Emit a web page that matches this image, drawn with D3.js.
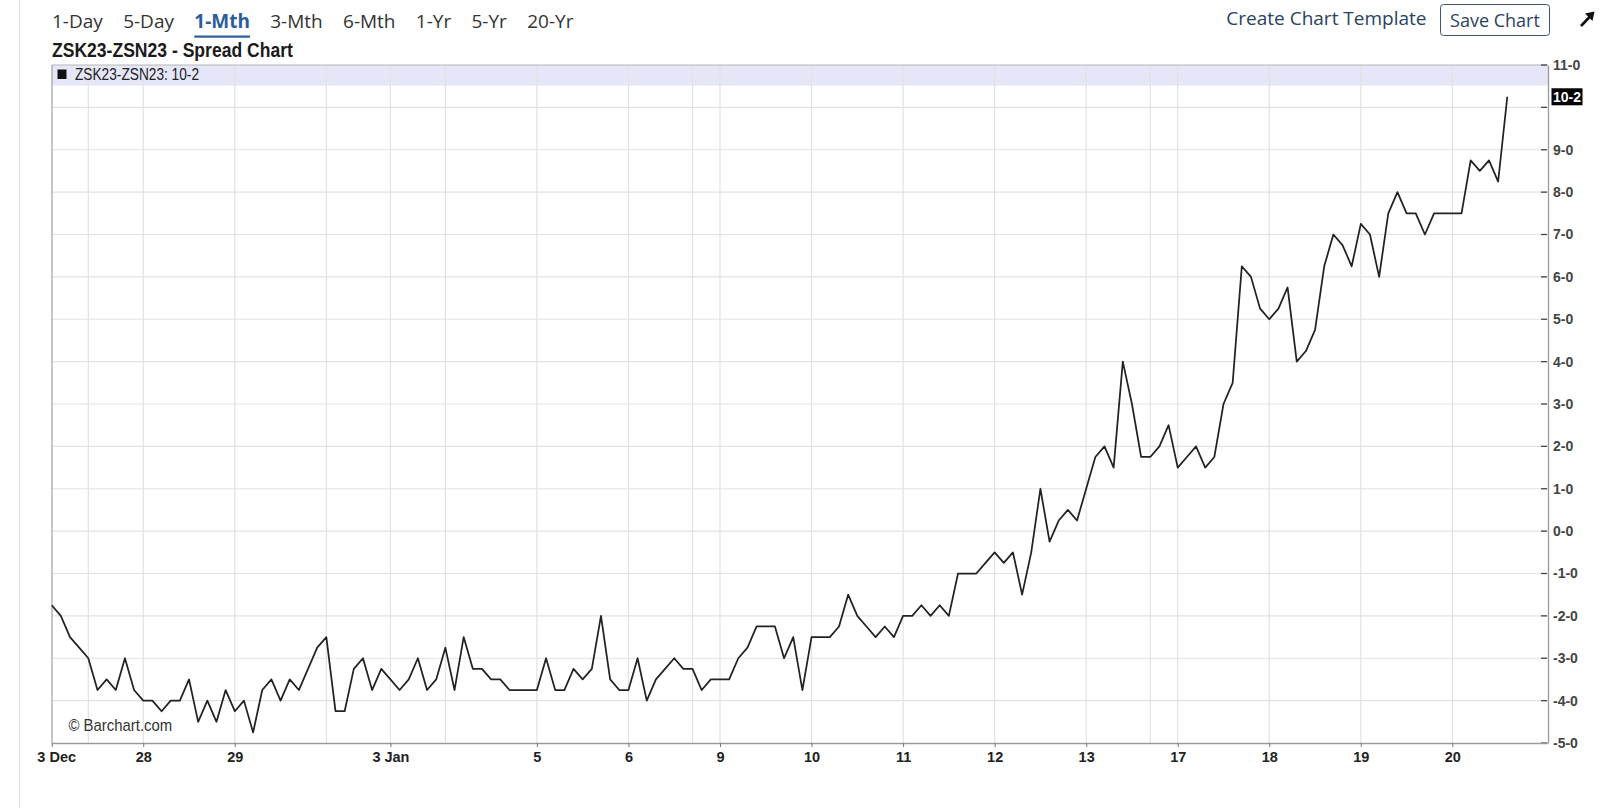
<!DOCTYPE html>
<html><head><meta charset="utf-8">
<script src="https://cdn.jsdelivr.net/npm/d3@7"></script>
<style>
html,body{margin:0;padding:0;background:#fff;overflow:hidden;}
svg{display:block;}
</style></head><body>
<svg id="c" width="1600" height="808"></svg>
<script>
// ---------- data ----------
const periods = ["1-Day","5-Day","1-Mth","3-Mth","6-Mth","1-Yr","5-Yr","20-Yr"];
const activePeriod = "1-Mth";
const chartTitle = "ZSK23-ZSN23 - Spread Chart";
const seriesName = "ZSK23-ZSN23";
const lastLabel = "10-2";
const spread = [
  -1.75,-2,-2.5,-2.75,-3,-3.75,-3.5,-3.75,-3,-3.75,
  -4,-4,-4.25,-4,-4,-3.5,-4.5,-4,-4.5,-3.75,
  -4.25,-4,-4.75,-3.75,-3.5,-4,-3.5,-3.75,-3.25,-2.75,
  -2.5,-4.25,-4.25,-3.25,-3,-3.75,-3.25,-3.5,-3.75,-3.5,
  -3,-3.75,-3.5,-2.75,-3.75,-2.5,-3.25,-3.25,-3.5,-3.5,
  -3.75,-3.75,-3.75,-3.75,-3,-3.75,-3.75,-3.25,-3.5,-3.25,
  -2,-3.5,-3.75,-3.75,-3,-4,-3.5,-3.25,-3,-3.25,
  -3.25,-3.75,-3.5,-3.5,-3.5,-3,-2.75,-2.25,-2.25,-2.25,
  -3,-2.5,-3.75,-2.5,-2.5,-2.5,-2.25,-1.5,-2,-2.25,
  -2.5,-2.25,-2.5,-2,-2,-1.75,-2,-1.75,-2,-1,
  -1,-1,-0.75,-0.5,-0.75,-0.5,-1.5,-0.5,1,-0.25,
  0.25,0.5,0.25,1,1.75,2,1.5,4,3,1.75,
  1.75,2,2.5,1.5,1.75,2,1.5,1.75,3,3.5,
  6.25,6,5.25,5,5.25,5.75,4,4.25,4.75,6.25,
  7,6.75,6.25,7.25,7,6,7.5,8,7.5,7.5,
  7,7.5,7.5,7.5,7.5,8.75,8.5,8.75,8.25,10.25
];
const dayGridIdx  = [4,10,20,30,37,43,53,63,70,73,83,93,103,113,120,123,133,143,153];
const dayLabelIdx = [0,10,20,37,53,63,73,83,93,103,113,123,133,143,153];
const dayLabels   = ["3 Dec","28","29","3 Jan","5","6","9","10","11","12","13","17","18","19","20"];
const yTicks = [-5,-4,-3,-2,-1,0,1,2,3,4,5,6,7,8,9,10,11];

// ---------- layout ----------
const svg = d3.select("#c");
const P = {left:52, right:1548, top:65, bottom:743, legendH:20.5};
const chartFont = "'Liberation Sans', Arial, Helvetica, sans-serif";
const uiFont = "'Open Sans', 'Noto Sans', sans-serif";

const x = d3.scaleLinear().domain([0, spread.length-1]).range([51.7, 1507.3]);
const y = d3.scaleLinear().domain([-5, 11]).range([P.bottom, P.top]);

const fmt = v => {
  const whole = Math.trunc(v);
  const eighths = Math.round(Math.abs(v - whole) * 8);
  return (v < 0 && whole === 0 ? "-" : "") + whole + "-" + eighths;
};

// page border line
svg.append("line").attr("x1",19.5).attr("x2",19.5).attr("y1",0).attr("y2",808)
  .attr("stroke","#dcdcdc").attr("stroke-width",1);

// ---------- toolbar ----------
const tb = svg.append("g");
let tx = 52;
periods.forEach(p => {
  const active = p === activePeriod;
  const t = tb.append("text").attr("x", tx).attr("y", 27.5)
    .attr("font-family", uiFont).attr("font-size", 19)
    .attr("font-weight", active ? 700 : 400)
    .attr("fill", active ? "#2b5d9b" : "#333").text(p);
  const w = t.node().getComputedTextLength();
  if (active) {
    tb.append("rect").attr("x", tx).attr("y", 35.5).attr("width", w).attr("height", 2.2)
      .attr("fill", "#2b5d9b");
  }
  tx += w + 20.3;
});

svg.append("text").attr("x", 1426.5).attr("y", 24.5).attr("text-anchor","end")
  .attr("font-family", uiFont).attr("font-size", 19).attr("fill","#2a4262")
  .text("Create Chart Template");
svg.append("rect").attr("x",1440.5).attr("y",4.5).attr("width",109).attr("height",31)
  .attr("rx",3).attr("fill","#fff").attr("stroke","#3b5578").attr("stroke-width",1);
svg.append("text").attr("x", 1495).attr("y", 27).attr("text-anchor","middle")
  .attr("font-family", uiFont).attr("font-size", 18).attr("fill","#2a4262")
  .text("Save Chart");
// expand arrow
svg.append("line").attr("x1",1581).attr("y1",26).attr("x2",1590).attr("y2",16.5)
  .attr("stroke","#111").attr("stroke-width",2.6);
svg.append("path").attr("d","M1594.5,11.5 L1585,13.5 L1592.5,21 Z").attr("fill","#111");

// ---------- title ----------
function ctext(g, px, py, s, o) {
  return g.append("text")
    .attr("transform", `translate(${px},${py}) scale(${o.sx||1},1)`)
    .attr("text-anchor", o.anchor || "start")
    .attr("font-family", chartFont).attr("font-size", o.size)
    .attr("font-weight", o.weight || 400).attr("fill", o.fill || "#222")
    .text(s);
}
ctext(svg, 52, 56.7, chartTitle, {size:19.5, weight:700, sx:0.9, fill:"#1a1a1a"});

// ---------- plot background / legend band ----------
svg.append("rect").attr("x",P.left).attr("y",P.top).attr("width",P.right-P.left)
  .attr("height",P.legendH).attr("fill","#e6e6f9");

// grid
const grid = svg.append("g").attr("stroke","#e2e2e2").attr("stroke-width",1.2);
grid.selectAll("line.h").data(yTicks.filter(t => t > -5 && t < 11)).join("line")
  .attr("x1",P.left).attr("x2",P.right)
  .attr("y1",d=>y(d)).attr("y2",d=>y(d));
grid.selectAll("line.v").data(dayGridIdx).join("line")
  .attr("x1",d=>x(d)).attr("x2",d=>x(d))
  .attr("y1",P.top).attr("y2",P.bottom);

// plot frame
svg.append("line").attr("x1",P.left).attr("x2",P.right).attr("y1",P.top).attr("y2",P.top)
  .attr("stroke","#b5b5b5").attr("stroke-width",1);
svg.append("line").attr("x1",P.left).attr("x2",P.left).attr("y1",P.top).attr("y2",P.bottom)
  .attr("stroke","#a0a0a0").attr("stroke-width",1.2);

// legend
svg.append("rect").attr("x",57.5).attr("y",69.5).attr("width",9).attr("height",9.5).attr("fill","#111");
ctext(svg, 75, 80.3, seriesName + ": " + lastLabel, {size:16.5, sx:0.83, fill:"#222"});

// ---------- line ----------
const lineGen = d3.line().x((d,i)=>x(i)).y(d=>y(d));
svg.append("path").datum(spread).attr("d", lineGen)
  .attr("fill","none").attr("stroke","#222").attr("stroke-width",1.75)
  .attr("stroke-linejoin","round");

// watermark
ctext(svg, 68.5, 730.5, "© Barchart.com", {size:15.7, sx:0.95, fill:"#333"});

// ---------- axes ----------
const lastV = spread[spread.length-1];
const yAxis = d3.axisRight(y).tickValues(yTicks.filter(t => Math.abs(y(t) - y(lastV)) > 14))
  .tickFormat(fmt).tickSize(0).tickPadding(5);
const ya = svg.append("g").attr("transform",`translate(${P.right},0)`).call(yAxis);
ya.select(".domain").attr("stroke","#9a9a9a").attr("stroke-width",1.3);
ya.selectAll("text").attr("font-family",chartFont).attr("font-size",14)
  .attr("font-weight",700).attr("fill","#444");
// inward tick marks (all ticks, incl. hidden label)
svg.append("g").selectAll("line").data(yTicks).join("line")
  .attr("x1",P.right-7).attr("x2",P.right-1).attr("y1",d=>y(d)).attr("y2",d=>y(d))
  .attr("stroke","#444").attr("stroke-width",1.3);

const xAxis = d3.axisBottom(x).tickValues(dayLabelIdx)
  .tickFormat((d,i)=>dayLabels[i]).tickSize(4).tickPadding(5);
const xa = svg.append("g").attr("transform",`translate(0,${P.bottom})`).call(xAxis);
xa.select(".domain").attr("d",`M${P.left},0.5H${P.right}`).attr("stroke","#9a9a9a").attr("stroke-width",1.3);
xa.selectAll(".tick line").attr("stroke","#777");
xa.selectAll("text").attr("font-family",chartFont).attr("font-size",14.5)
  .attr("font-weight",700).attr("fill","#222").attr("y",9);
xa.selectAll(".tick").filter(d=>d===0).select("text").attr("dx",4.5);

// last value badge
const by = y(lastV);
svg.append("rect").attr("x",1551.5).attr("y",by-8.5).attr("width",31).attr("height",17).attr("fill","#000");
ctext(svg, 1567, by+5, lastLabel, {size:14, weight:700, anchor:"middle", fill:"#fff"});
</script>
</body></html>
